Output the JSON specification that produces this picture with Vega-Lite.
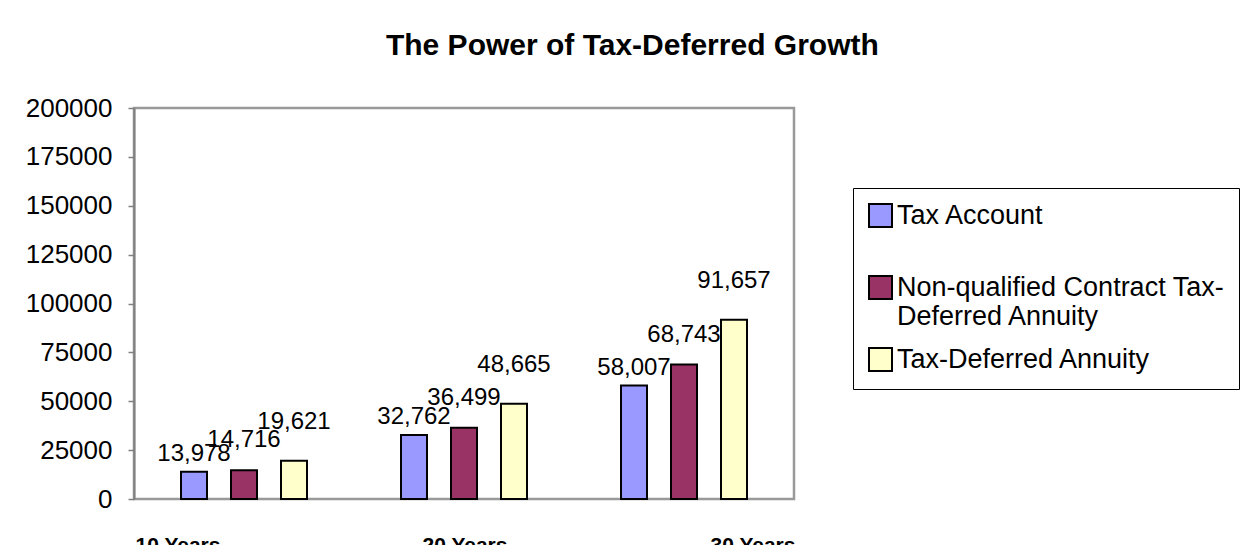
{
  "$schema": "https://vega.github.io/schema/vega-lite/v6.json",
  "autosize": {"type": "none"},
  "padding": {"left": 134, "top": 108, "right": 454, "bottom": 46},
  "width": 660,
  "height": 391,
  "background": "white",
  "title": {
    "text": "The Power of Tax-Deferred Growth",
    "font": "Liberation Sans",
    "fontSize": 30,
    "fontWeight": "bold",
    "color": "black",
    "anchor": "middle",
    "frame": "bounds",
    "offset": 34
  },
  "data": {
    "values": [
      {"period": "10 Years", "series": "Tax Account", "value": 13978},
      {"period": "10 Years", "series": "Non-qualified Contract Tax-Deferred Annuity", "value": 14716},
      {"period": "10 Years", "series": "Tax-Deferred Annuity", "value": 19621},
      {"period": "20 Years", "series": "Tax Account", "value": 32762},
      {"period": "20 Years", "series": "Non-qualified Contract Tax-Deferred Annuity", "value": 36499},
      {"period": "20 Years", "series": "Tax-Deferred Annuity", "value": 48665},
      {"period": "30 Years", "series": "Tax Account", "value": 58007},
      {"period": "30 Years", "series": "Non-qualified Contract Tax-Deferred Annuity", "value": 68743},
      {"period": "30 Years", "series": "Tax-Deferred Annuity", "value": 91657}
    ]
  },
  "encoding": {
    "x": {
      "field": "period",
      "type": "nominal",
      "sort": ["10 Years", "20 Years", "30 Years"],
      "scale": {"paddingInner": 0, "paddingOuter": 0},
      "axis": {
        "title": null,
        "ticks": false,
        "domain": false,
        "labelAngle": 0,
        "labelFont": "Liberation Sans",
        "labelFontSize": 21,
        "labelFontWeight": "bold",
        "labelColor": "black",
        "labelBaseline": "top",
        "labelPadding": 35,
        "labelOffset": {
          "condition": [
            {"test": "datum.value === '10 Years'", "value": -66},
            {"test": "datum.value === '30 Years'", "value": 69}
          ],
          "value": 1
        }
      }
    },
    "xOffset": {
      "field": "series",
      "type": "nominal",
      "sort": ["Tax Account", "Non-qualified Contract Tax-Deferred Annuity", "Tax-Deferred Annuity"],
      "scale": {"paddingInner": 0.48, "paddingOuter": 0.94}
    },
    "y": {
      "field": "value",
      "type": "quantitative",
      "scale": {"domain": [0, 200000], "nice": false},
      "axis": {
        "title": null,
        "values": [0, 25000, 50000, 75000, 100000, 125000, 150000, 175000, 200000],
        "format": "d",
        "grid": false,
        "labelFont": "Liberation Sans",
        "labelFontSize": 26,
        "labelColor": "black",
        "labelPadding": 16,
        "tickSize": 6,
        "tickColor": "#808080",
        "tickWidth": 1.5,
        "domainColor": "#808080",
        "domainWidth": 2
      }
    }
  },
  "layer": [
    {
      "mark": {"type": "bar", "stroke": "black", "strokeWidth": 2},
      "encoding": {
        "fill": {
          "field": "series",
          "type": "nominal",
          "scale": {
            "domain": ["Tax Account", "Non-qualified Contract Tax-Deferred Annuity", "Tax-Deferred Annuity"],
            "range": ["#9999FF", "#993366", "#FFFFCC"]
          },
          "legend": {
            "title": null,
            "orient": "none",
            "legendX": 719,
            "legendY": 80,
            "direction": "vertical",
            "strokeColor": "black",
            "fillColor": "white",
            "padding": 14,
            "gridAlign": "all",
            "rowPadding": 14,
            "symbolType": "square",
            "symbolSize": 529,
            "symbolStrokeColor": "black",
            "symbolStrokeWidth": 2,
            "symbolOpacity": 1,
            "labelFont": "Liberation Sans",
            "labelFontSize": 27,
            "labelColor": "black",
            "labelOffset": 3,
            "labelLimit": 600,
            "labelExpr": "datum.label === 'Non-qualified Contract Tax-Deferred Annuity' ? ['Non-qualified Contract Tax-', 'Deferred Annuity'] : datum.label"
          }
        }
      }
    },
    {
      "transform": [{"filter": "datum.series === 'Tax Account'"}],
      "mark": {"type": "text", "font": "Liberation Sans", "fontSize": 24, "color": "black", "baseline": "bottom", "dy": -6},
      "encoding": {"text": {"field": "value", "type": "quantitative", "format": ","}}
    },
    {
      "transform": [{"filter": "datum.series === 'Non-qualified Contract Tax-Deferred Annuity'"}],
      "mark": {"type": "text", "font": "Liberation Sans", "fontSize": 24, "color": "black", "baseline": "bottom", "dy": -18},
      "encoding": {"text": {"field": "value", "type": "quantitative", "format": ","}}
    },
    {
      "transform": [{"filter": "datum.series === 'Tax-Deferred Annuity'"}],
      "mark": {"type": "text", "font": "Liberation Sans", "fontSize": 24, "color": "black", "baseline": "bottom", "dy": -27},
      "encoding": {"text": {"field": "value", "type": "quantitative", "format": ","}}
    }
  ],
  "config": {
    "view": {"stroke": "#999999", "strokeWidth": 2.5}
  }
}
